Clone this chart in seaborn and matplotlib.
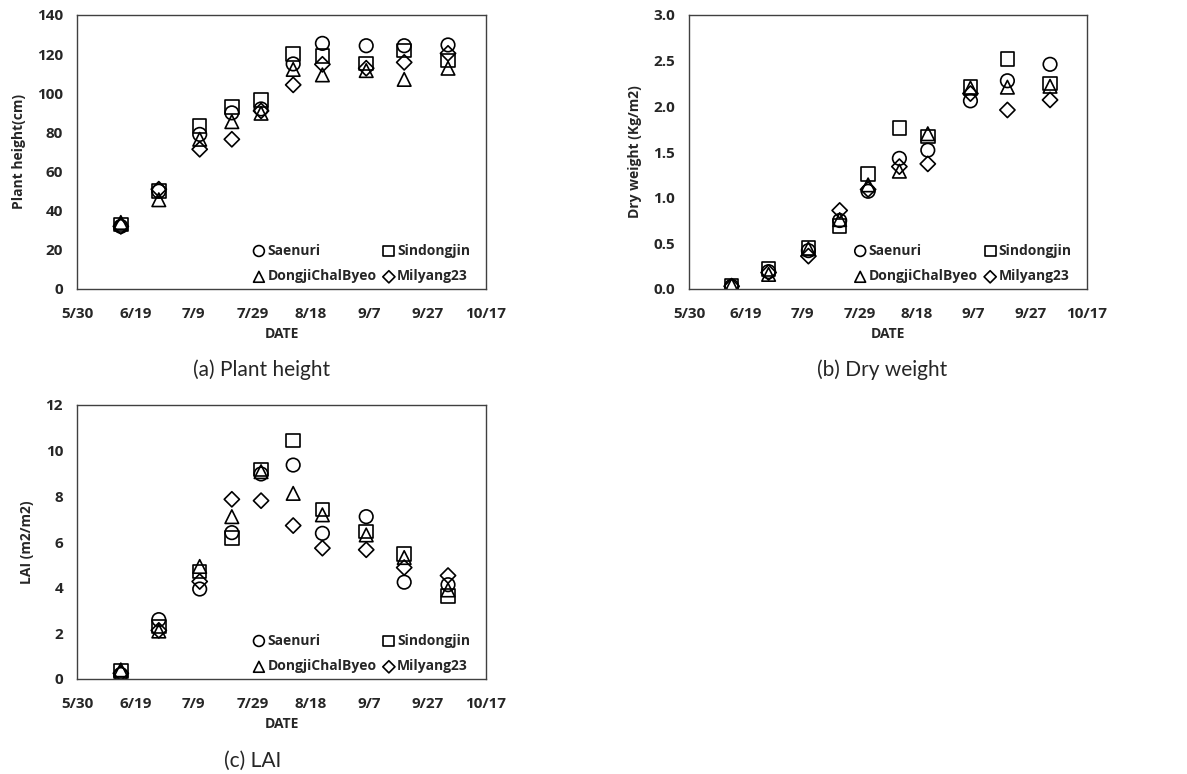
import numpy as np
import pandas as pd
import matplotlib
matplotlib.use("Agg")
import matplotlib.pyplot as plt
import seaborn as sns

sns.set_style("white")
plt.rcParams['font.family'] = ['Open Sans', 'DejaVu Sans']

# sampling dates
dates = pd.to_datetime(["2017-06-14", "2017-06-27", "2017-07-11", "2017-07-22", "2017-08-01",
                        "2017-08-12", "2017-08-22", "2017-09-06", "2017-09-19", "2017-10-04"])
varieties = ["Saenuri", "Sindongjin", "DongjiChalByeo", "Milyang23"]
markers = {"Saenuri": "o", "Sindongjin": "s", "DongjiChalByeo": "^", "Milyang23": "D"}

# (a) plant height (cm)
height_saenuri = [32, 50, 79, 90, 92, 115, 125.5, 124.3, 124.3, 124.7]
height_sindongjin = [33, 50, 83.3, 92.9, 96.6, 120, 119, 115.3, 121.8, 116.7]
height_dongji = [34, 45.6, 76.5, 85.5, 89.8, 112.2, 109.4, 111.6, 107.1, 112.8]
height_milyang = [32, 51, 71.4, 76.5, 91, 104.3, 114.8, 112.8, 115.8, 120.4]

# (b) dry weight (kg/m2)
dw_saenuri = [0.03, 0.19, 0.42, 0.75, 1.07, 1.43, 1.52, 2.06, 2.28, 2.46]
dw_sindongjin = [0.04, 0.22, 0.45, 0.69, 1.26, 1.76, 1.67, 2.21, 2.52, 2.25]
dw_dongji = [0.04, 0.16, 0.44, 0.76, 1.14, 1.29, 1.70, 2.20, 2.21, 2.22]
dw_milyang = [0.03, 0.18, 0.36, 0.86, 1.09, 1.34, 1.37, 2.14, 1.96, 2.07]

# (c) LAI (m2/m2)
lai_saenuri = [0.2, 2.6, 3.94, 6.41, 8.98, 9.37, 6.38, 7.11, 4.24, 4.13]
lai_sindongjin = [0.35, 2.3, 4.7, 6.17, 9.18, 10.44, 7.43, 6.46, 5.48, 3.64]
lai_dongji = [0.4, 2.1, 4.93, 7.11, 9.08, 8.13, 7.19, 6.31, 5.32, 3.9]
lai_milyang = [0.25, 2.13, 4.27, 7.87, 7.81, 6.72, 5.73, 5.66, 4.88, 4.53]

panels = [
    ("Plant height(cm)", [height_saenuri, height_sindongjin, height_dongji, height_milyang],
     np.arange(0, 141, 20), "{:.0f}", "(a) Plant height"),
    ("Dry weight (Kg/m2)", [dw_saenuri, dw_sindongjin, dw_dongji, dw_milyang],
     np.arange(0, 3.01, 0.5), "{:.1f}", "(b) Dry weight"),
    ("LAI (m2/m2)", [lai_saenuri, lai_sindongjin, lai_dongji, lai_milyang],
     np.arange(0, 13, 2), "{:.0f}", "(c) LAI"),
]

xticks = pd.date_range("2017-05-30", periods=8, freq="20D")

fig = plt.figure(figsize=(11.87, 7.74), dpi=100)
W, H = 1187, 774
boxes = [(77, 15, 486, 289), (689, 15, 1087, 289), (77, 405, 486, 679)]
caption_pos = [(262, 370), (882, 370), (253, 761)]

for (ylab, series, yticks, fmt, cap), (x0, y0, x1, y1), (cx, cy) in zip(panels, boxes, caption_pos):
    ax = fig.add_axes([x0 / W, 1 - y1 / H, (x1 - x0) / W, (y1 - y0) / H])
    for name, vals in zip(varieties, series):
        sns.scatterplot(x=dates, y=vals, marker=markers[name], s=95 if name != "Milyang23" else 60,
                        facecolor="none", edgecolor="black", linewidth=1.2, label=name, ax=ax)
    ax.set_xlim(xticks[0], xticks[-1])
    ax.set_xticks(xticks)
    ax.set_xticklabels([f"{d.month}/{d.day}" for d in xticks])
    ax.set_ylim(yticks[0], yticks[-1])
    ax.set_yticks(yticks)
    ax.set_yticklabels([fmt.format(v) for v in yticks])
    ax.tick_params(axis="x", length=0, labelsize=11, pad=13)
    ax.tick_params(axis="y", length=0, labelsize=11, pad=10)
    for lab in ax.get_xticklabels() + ax.get_yticklabels():
        lab.set_fontweight("bold")
    ax.set_xlabel("DATE", fontsize=10, fontweight="bold", labelpad=4)
    ax.set_ylabel(ylab, fontsize=10, fontweight="bold", labelpad=8)
    for sp in ax.spines.values():
        sp.set_color("#404040")
        sp.set_linewidth(1.0)
    # row-wise legend order: Saenuri, Sindongjin / DongjiChalByeo, Milyang23
    handles, labels = ax.get_legend_handles_labels()
    order = [0, 2, 1, 3]
    ax.legend([handles[i] for i in order], [labels[i] for i in order],
              ncol=2, loc="lower right", bbox_to_anchor=(0.975, 0.0), frameon=False,
              prop={"weight": "bold", "size": 10}, handletextpad=0.1,
              columnspacing=0.4, handlelength=1.0, borderaxespad=0.0,
              labelspacing=0.85, markerscale=0.8)
    fig.text(cx / W, 1 - cy / H, cap, ha="center", va="center", fontsize=15,
             family=["Lato", "DejaVu Sans"])

fig.savefig("out.png", dpi=100)
